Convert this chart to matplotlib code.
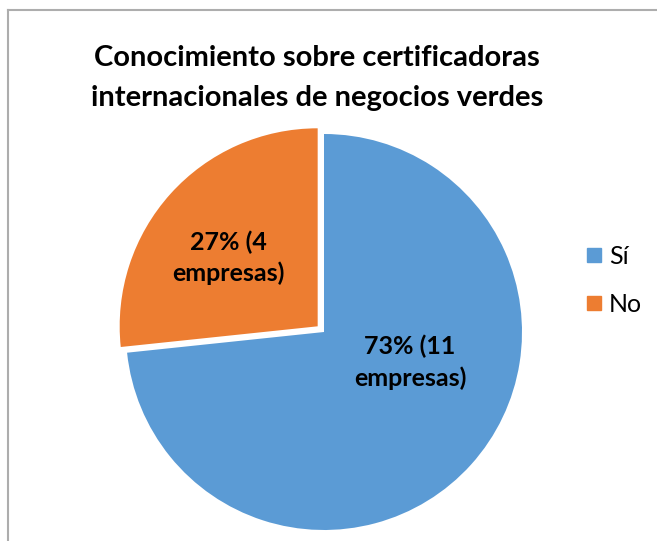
import matplotlib
matplotlib.use("Agg")
import matplotlib.pyplot as plt
from matplotlib.lines import Line2D

plt.rcParams['font.family'] = ['Lato', 'DejaVu Sans']

categories = ['Sí', 'No']
empresas = [11, 4]
colors = ['#5B9BD5', '#ED7D31']
title = 'Conocimiento sobre certificadoras\ninternacionales de negocios verdes'

W, H = 657, 541
fig = plt.figure(figsize=(W / 100, H / 100), dpi=100)

# pie centre / radius in pixels, axes spans the whole figure with equal scale
cx, cy, R = 324, 332, 198
ax = fig.add_axes([0, 0, 1, 1])
wedges, _ = ax.pie(empresas, colors=colors, startangle=90, counterclock=False,
                   explode=[0, 0.043], radius=1,
                   wedgeprops=dict(linewidth=0))
ax.set_xlim(-cx / R, (W - cx) / R)
ax.set_ylim((cy - H) / R, cy / R)
ax.set_aspect('auto')
ax.axis('off')

total = sum(empresas)
label_pos = [(0.434, -0.152), (-0.485, 0.374)]
for v, (x, y) in zip(empresas, label_pos):
    ax.text(x, y, f"{round(v / total * 100)}% ({v}\nempresas)", ha='center', va='center',
            fontsize=18, fontweight='bold', linespacing=1.4)

fig.text(317 / W, 1 - 78 / H, title, ha='center', va='center', fontsize=21,
         fontweight='bold', linespacing=1.62)

handles = [Line2D([], [], marker='s', linestyle='none', markersize=10,
                  markerfacecolor=c, markeredgecolor=c) for c in colors]
fig.legend(handles, categories, loc='center left', bbox_to_anchor=(575 / W, 1 - 280 / H),
           frameon=False, fontsize=18, handlelength=0.7, handletextpad=0.25,
           labelspacing=1.0, borderaxespad=0)

# chart area border (runs off the right and bottom of the image)
border = '#ADADAD'
fig.add_artist(Line2D([7.5 / W, 7.5 / W], [0, 1 - 10 / H], color=border, lw=1.5,
                      transform=fig.transFigure))
fig.add_artist(Line2D([7.5 / W, 1], [1 - 10 / H, 1 - 10 / H], color=border, lw=1.5,
                      transform=fig.transFigure))

fig.savefig('out.png', dpi=100)
